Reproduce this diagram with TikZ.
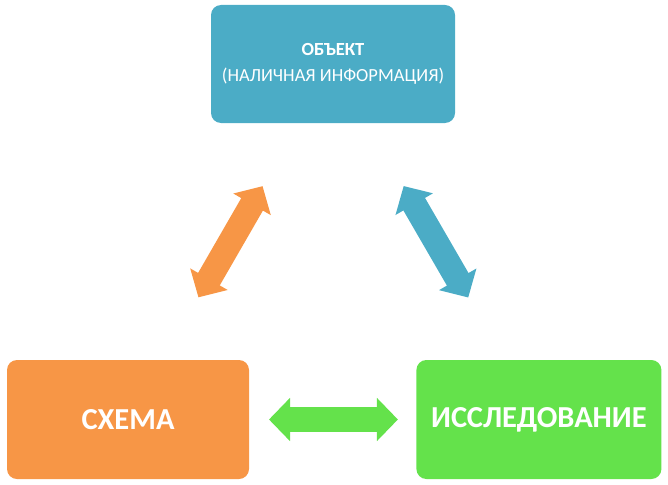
\documentclass[tikz,border=0pt]{standalone}
\usepackage{fontspec}
\setmainfont{Carlito}
\usetikzlibrary{positioning,arrows.meta}

\definecolor{objcol}{HTML}{4BACC6}
\definecolor{schcol}{HTML}{F79646}
\definecolor{rescol}{HTML}{64E24B}

\begin{document}
\begin{tikzpicture}[
		x=1pt, y=-1pt
		,box/.style={rounded corners=10pt, text=white, align=center, inner sep=0pt}
		,big/.style={box, minimum height=119pt, font=\bfseries\fontsize{30.5}{36}\selectfont}
		,twoway/.style={line width=25pt, shorten <=141pt, shorten >=141pt,
			{Triangle[width=42pt,length=21pt]}-{Triangle[width=42pt,length=21pt]}}
	]
		\useasboundingbox (0,0) rectangle (668,484);

		\node[box, fill=objcol, minimum width=244pt, minimum height=118pt,
			font=\fontsize{18.5}{26}\selectfont] (obj) at (333,64)
			{\textbf{ОБЪЕКТ}\\(НАЛИЧНАЯ ИНФОРМАЦИЯ)};
		\node[big, fill=schcol, minimum width=242pt] (sch) at (128,419.5) {СХЕМА};
		\node[big, fill=rescol, minimum width=245pt, right=167pt of sch] (res) {ИССЛЕДОВАНИЕ};

		\draw[twoway, schcol] (obj.center) -- (sch.center);
		\draw[twoway, objcol] (obj.center) -- (res.center);
		\draw[twoway, rescol] (sch.center) -- (res.center);
	\end{tikzpicture}
\end{document}
